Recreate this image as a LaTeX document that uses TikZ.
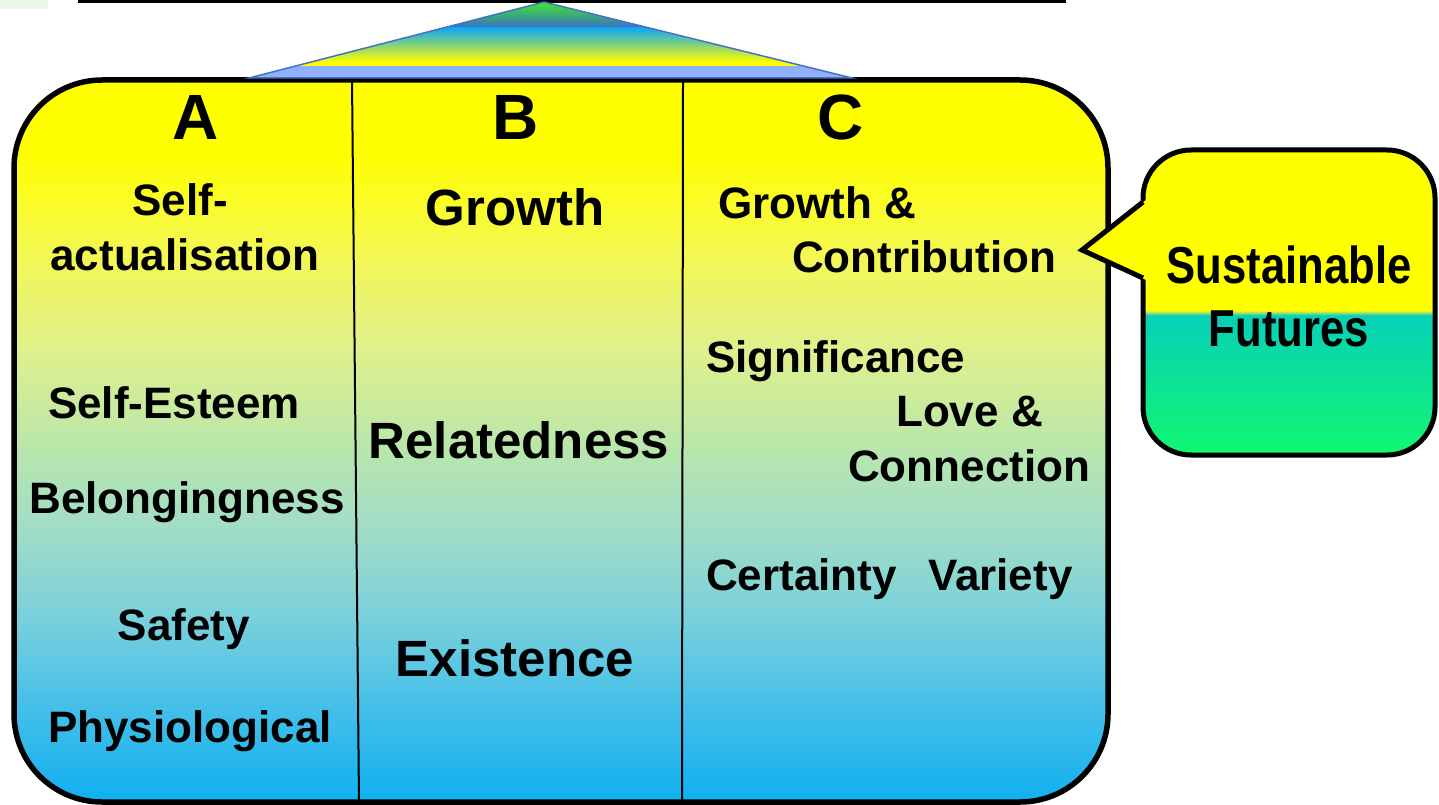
\documentclass[tikz,border=0pt]{standalone}
\usepackage{fontspec}
\setmainfont{Liberation Sans}
\usetikzlibrary{positioning}

\definecolor{needyellow}{HTML}{FFFF00}
\definecolor{needpale}{HTML}{F4F850}
\definecolor{needlime}{HTML}{E0F08C}
\definecolor{needmint}{HTML}{B8E6AC}
\definecolor{needsea}{HTML}{A0DCC8}
\definecolor{needaqua}{HTML}{78D0DC}
\definecolor{needsky}{HTML}{48C0E8}
\definecolor{needblue}{HTML}{10B0F0}
\definecolor{futteal}{HTML}{08D0B8}
\definecolor{futgreen}{HTML}{10F870}
\definecolor{futline}{HTML}{90E070}
\definecolor{tipgreen}{HTML}{40F020}
\definecolor{tipblue}{HTML}{3A6CC8}
\definecolor{tipcyan}{HTML}{10A8F0}
\definecolor{tipteal}{HTML}{60C8A0}
\definecolor{tiplavender}{HTML}{90B0FF}
\definecolor{tipedge}{HTML}{4472C4}
\definecolor{patchgreen}{HTML}{EEF6EA}

\pgfdeclareverticalshading{needsfade}{100bp}{color(0bp)=(needblue); color(25bp)=(needblue);
  color(32bp)=(needsky); color(37.6bp)=(needaqua); color(43.8bp)=(needsea);
  color(49.4bp)=(needmint); color(56.3bp)=(needlime); color(63.2bp)=(needpale);
  color(70bp)=(needyellow); color(100bp)=(needyellow)}
\pgfdeclareverticalshading{futuresfade}{100bp}{color(0bp)=(futgreen); color(25bp)=(futgreen);
  color(47.9bp)=(futteal); color(48.3bp)=(futline); color(48.7bp)=(needyellow);
  color(100bp)=(needyellow)}

\begin{document}
\begin{tikzpicture}[x=1pt,y=-1pt,
  item node/.style={inner sep=0pt,anchor=base,font=\fontsize{44}{50}\selectfont\bfseries},
  big node/.style={item node,font=\fontsize{51}{58}\selectfont\bfseries},
  head node/.style={item node,font=\fontsize{64}{70}\selectfont\bfseries},
  left node/.style={item node,anchor=base west},
  narrow node/.style={item node,font=\fontsize{52}{58}\selectfont\bfseries}]
  \useasboundingbox (0,0) rectangle (1439,805);

  \fill[patchgreen] (0,0) rectangle (48,9);
  \draw[line width=3pt] (78,1.5) -- (1066,1.5);

  % main box and columns
  \shade[shading=needsfade,draw=black,line width=5.5pt,rounded corners=88pt]
    (14,80) rectangle (1108,802);
  \draw[line width=2pt] (352,80) -- (359,802);
  \draw[line width=2pt] (683,80) -- (682,802);

  % roof
  \begin{scope}
    \clip (544,2) -- (852,78) -- (249,78) -- cycle;
    \shade[top color=tipgreen,bottom color=tipblue] (249,0) rectangle (852,28);
    \shade[top color=tipcyan,middle color=tipteal,bottom color=needyellow] (249,28) rectangle (852,62);
    \fill[needyellow] (249,62) rectangle (852,66);
    \fill[tiplavender] (249,66) rectangle (852,79);
  \end{scope}
  \draw[tipedge,line width=1.5pt] (544,2) -- (852,78) -- (249,78) -- cycle;

  \node[head node] (colA) at (196,140) {A};
  \node[head node] (colB) at (516,140) {B};
  \node[head node] (colC) at (841,140) {C};

  \node[item node] (self1) at (180,215) {Self-};
  \node[item node] (self2) at (185,270) {actualisation};
  \node[item node] (esteem) at (174,418) {Self-Esteem};
  \node[item node] (belong) at (187,513) {Belongingness};
  \node[item node] (safety) at (184,640) {Safety};
  \node[item node] (physio) at (190,742) {Physiological};

  \node[big node] (growth) at (515,225) {Growth};
  \node[big node] (related) at (519,458) {Relatedness};
  \node[big node] (exist) at (515,676) {Existence};

  \node[left node] (contrib1) at (718,218) {Growth \&};
  \node[left node] (contrib2) at (792,272) {Contribution};
  \node[left node] (signif) at (706,372) {Significance};
  \node[left node] (love1) at (896,426) {Love \&};
  \node[left node] (love2) at (848,481) {Connection};
  \node[left node] (certain) at (706,590) {Certainty};
  \node[left node] (variety) at (928,590) {Variety};

  % callout
  \shade[shading=futuresfade,draw=black,line width=5pt,rounded corners=48pt]
    (1143,150) rectangle (1435,455);
  \fill[needyellow] (1146,200) -- (1082,250) -- (1146,280) -- cycle;
  \draw[line width=5pt,line join=miter] (1143,202) -- (1082,250) -- (1143,278);
  \node[narrow node] (sustain1) at (1289,283) {\scalebox{0.84}[1]{Sustainable}};
  \node[narrow node] (sustain2) at (1289,346) {\scalebox{0.84}[1]{Futures}};
\end{tikzpicture}
\end{document}
